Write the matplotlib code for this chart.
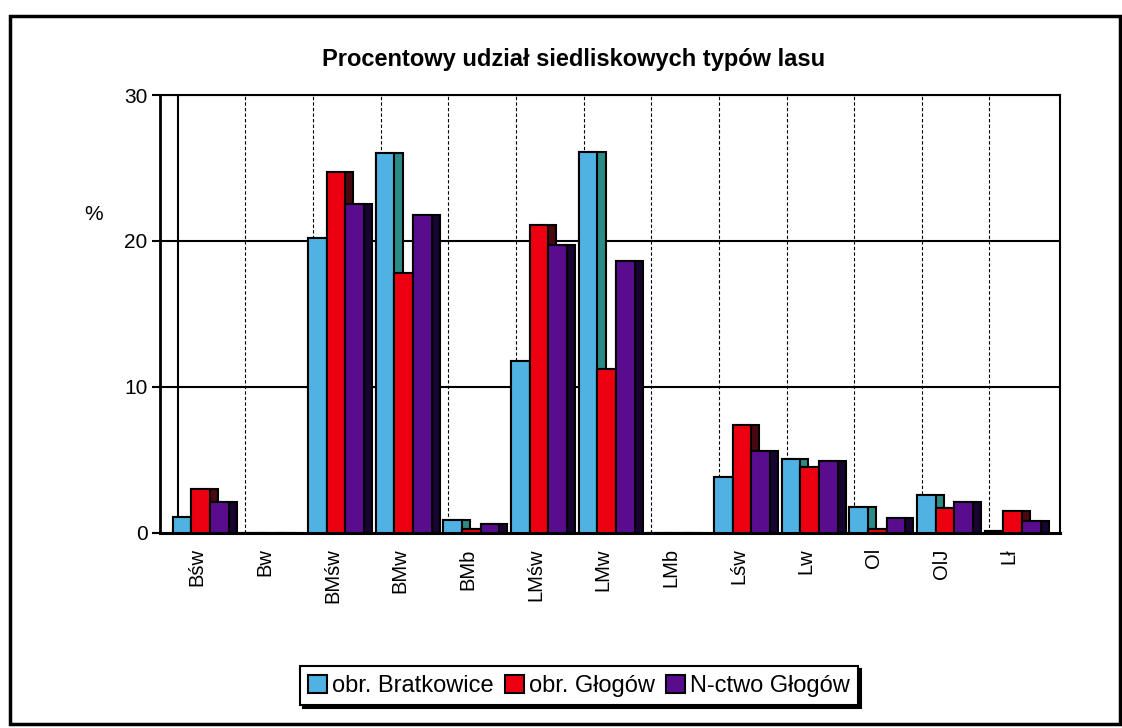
import numpy as np
import matplotlib
matplotlib.use('Agg')
import matplotlib.pyplot as plt
from matplotlib.patches import Patch, Rectangle

plt.rcParams['font.family'] = ['Liberation Sans', 'DejaVu Sans']

## ----------------------------------------------------------------------------------------
categories = ['Bśw', 'Bw', 'BMśw', 'BMw', 'BMb', 'LMśw', 'LMw', 'LMb', 'Lśw', 'Lw', 'Ol', 'OlJ', 'Lł']
bratkowice = [1.1, 0, 20.2, 26.0, 0.9, 11.8, 26.1, 0, 3.8, 5.1, 1.8, 2.6, 0.15]
glogowObr = [3.0, 0, 24.7, 17.8, 0.3, 21.1, 11.2, 0, 7.4, 4.5, 0.3, 1.7, 1.5]
glogowNctwo = [2.1, 0, 22.5, 21.8, 0.6, 19.7, 18.6, 0, 5.6, 4.9, 1.0, 2.1, 0.8]
seriesNames = ['obr. Bratkowice', 'obr. Głogów', 'N-ctwo Głogów']
yTicks = [0, 10, 20, 30]

frontColors = ['#4fb2e2', '#ec0010', '#5a0c8e']
sideColors = ['#2a8c84', '#4a0810', '#180430']

## ----------------------------------------------------------------------------------------
fig = plt.figure(figsize=(11.22, 7.28), dpi=100)
ax = fig.add_axes([0.1426, 0.2679, 0.802, 0.6016])

x = np.arange(len(categories))
frontW = 0.275
sideW = 0.12
offsets = [-0.47, -0.195, 0.08]

# back wall grid
for v in yTicks[1:]:
    ax.axhline(v, color='black', lw=1.5, zorder=1)
ax.axvline(-0.4, color='black', lw=1.5, zorder=1)
for i in range(1, len(categories)):
    ax.axvline(i - 0.4, color='black', lw=0.8, ls=(0, (3, 2)), zorder=1)

# pseudo 3d bars: dark side strip first, then the front face over it
allSeries = [bratkowice, glogowObr, glogowNctwo]
for k, vals in enumerate(allSeries):
    ax.bar(x + offsets[k], vals, width=frontW + sideW, align='edge',
           color=sideColors[k], edgecolor='black', lw=1.5, zorder=2 + 2 * k)
    ax.bar(x + offsets[k], vals, width=frontW, align='edge',
           color=frontColors[k], edgecolor='black', lw=1.5, zorder=3 + 2 * k)

ax.set_xlim(-0.66, 12.64)
ax.set_ylim(0, 30)
ax.set_yticks(yTicks)
ax.set_xticks(x - 0.11)
ax.set_xticklabels(categories, rotation=90, fontsize=14.5)
ax.tick_params(axis='x', length=0, pad=11)
ax.tick_params(axis='y', length=6, width=1.5, labelsize=15, pad=3)
for s in ax.spines.values():
    s.set_linewidth(1.5)
ax.spines['bottom'].set_linewidth(2.2)
ax.spines['left'].set_linewidth(2)

fig.text(0.511, 0.9176, 'Procentowy udział siedliskowych typów lasu',
         ha='center', va='center', fontsize=17, fontweight='bold')
fig.text(0.083, 0.705, '%', ha='center', va='center', fontsize=15)

handles = [Patch(facecolor=frontColors[k], edgecolor='black', lw=1.5) for k in range(3)]
leg = fig.legend(handles, seriesNames, loc='center', bbox_to_anchor=(0.516, 0.058),
                 ncol=3, fontsize=17, frameon=True, fancybox=False,
                 shadow={'color': 'black', 'alpha': 1}, edgecolor='black',
                 handlelength=0.8, handleheight=0.8, handletextpad=0.2,
                 columnspacing=0.5, borderpad=0.35)
leg.get_frame().set_linewidth(1.5)

# outer frame of the chart object
fig.patches.append(Rectangle((10 / 1122, 1 - 724 / 728), 1110 / 1122, 708 / 728,
                             transform=fig.transFigure, fill=False,
                             edgecolor='black', lw=2.5))

fig.savefig('out.png', dpi=100)
